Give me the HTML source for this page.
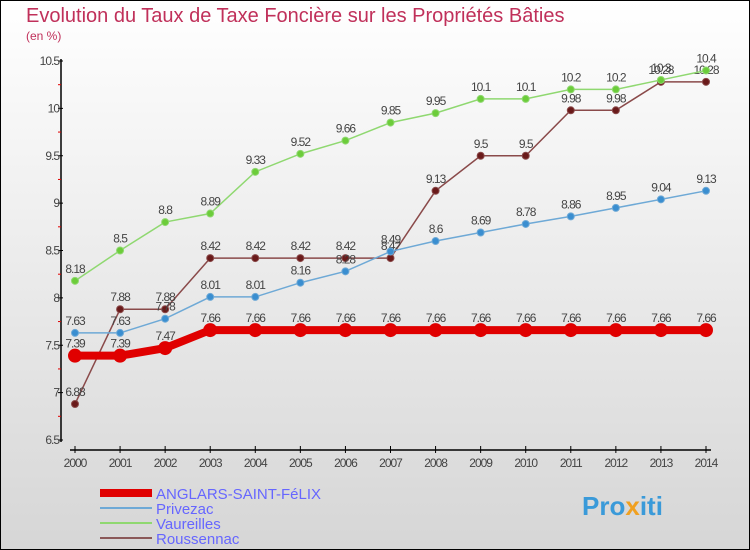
<!DOCTYPE html>
<html><head><meta charset="utf-8"><style>
body{margin:0}
svg{display:block;font-family:"Liberation Sans",sans-serif}
</style></head><body>
<svg width="750" height="550" viewBox="0 0 750 550">
<defs><linearGradient id="bg" x1="0" y1="0" x2="0" y2="1"><stop offset="0" stop-color="#ffffff"/><stop offset="1" stop-color="#d6d6d6"/></linearGradient></defs>
<rect x="0.5" y="0.5" width="749" height="549" fill="url(#bg)" stroke="#000"/>
<text x="26" y="22" font-size="20" fill="#c0305a">Evolution du Taux de Taxe Foncière sur les Propriétés Bâties</text>
<text x="26" y="40" font-size="12" fill="#c0305a">(en %)</text>
<g id="axes"></g>
<g id="series"></g>
<g id="legend">
<rect x="100" y="489" width="52" height="8" fill="#e00000"/>
<text x="156" y="499" font-size="15" fill="#6666ff">ANGLARS-SAINT-FéLIX</text>
<rect x="100" y="507" width="52" height="2" fill="#6ea9d6"/>
<text x="156" y="514" font-size="15" fill="#6666ff">Privezac</text>
<rect x="100" y="522" width="52" height="2" fill="#8fd870"/>
<text x="156" y="529" font-size="15" fill="#6666ff">Vaureilles</text>
<rect x="100" y="537" width="52" height="2" fill="#8a5858"/>
<text x="156" y="544" font-size="15" fill="#6666ff">Roussennac</text>
</g>
<text x="582" y="515" font-size="26" font-weight="bold" fill="#3a9ad9">Pro<tspan fill="#f0a020">x</tspan>iti</text>
</svg>
<script>
const years=[2000,2001,2002,2003,2004,2005,2006,2007,2008,2009,2010,2011,2012,2013,2014];
const anglars=[7.39,7.39,7.47,7.66,7.66,7.66,7.66,7.66,7.66,7.66,7.66,7.66,7.66,7.66,7.66];
const privezac=[7.63,7.63,7.78,8.01,8.01,8.16,8.28,8.49,8.6,8.69,8.78,8.86,8.95,9.04,9.13];
const vaureilles=[8.18,8.5,8.8,8.89,9.33,9.52,9.66,9.85,9.95,10.1,10.1,10.2,10.2,10.3,10.4];
const roussennac=[6.88,7.88,7.88,8.42,8.42,8.42,8.42,8.42,9.13,9.5,9.5,9.98,9.98,10.28,10.28];
const yTicks=[6.5,7,7.5,8,8.5,9,9.5,10,10.5];
const NS="http://www.w3.org/2000/svg";
const X=i=>75+i*(706-75)/(years.length-1);
const Y=v=>61+(10.5-v)*(440-61)/4;
function mk(tag,attrs,parent){const e=document.createElementNS(NS,tag);for(const k in attrs)e.setAttribute(k,attrs[k]);parent.appendChild(e);return e;}
const ax=document.getElementById('axes');
let l=mk('line',{x1:61,y1:59,x2:61,y2:442,stroke:'#000','stroke-width':1.5},ax);


yTicks.forEach(v=>{
  let t=mk('line',{x1:58,y1:Y(v),x2:63,y2:Y(v),stroke:'#000'},ax);
  
  
  let tx=mk('text',{x:59,y:Y(v)+4,'text-anchor':'end','font-size':12,fill:'#444','letter-spacing':-1},ax);
  tx.textContent=String(v);
  
  
  if(v<10.5){let m=mk('line',{x1:58,y1:Y(v+0.25),x2:61,y2:Y(v+0.25),stroke:'#e00000'},ax);
  
  }
});
l=mk('line',{x1:70,y1:450,x2:711,y2:450,stroke:'#000','stroke-width':1.5},ax);


years.forEach((y,i)=>{
  let t=mk('line',{x1:X(i),y1:446,x2:X(i),y2:453,stroke:'#000'},ax);
  
  
  let tx=mk('text',{x:X(i),y:467,'text-anchor':'middle','font-size':12,fill:'#444','letter-spacing':-1},ax);
  tx.textContent=String(y);
  
  
});
const sg=document.getElementById('series');
function draw(vals,name,color,dot,w,r){
  const g=mk('g',{},sg);
  
  
  const p=mk('polyline',{points:vals.map((v,i)=>X(i)+','+Y(v)).join(' '),fill:'none',stroke:color,'stroke-width':w},g);
  
  
  vals.forEach((v,i)=>{
    const c=mk('circle',{cx:X(i),cy:Y(v),r:r,fill:dot,stroke:color},g);
    
    
    const t=mk('text',{x:X(i),y:Y(v)-8,'text-anchor':'middle','font-size':12,fill:'#444','letter-spacing':-1},g);
    t.textContent=String(v);
    
    
  });
}
draw(roussennac,'roussennac','#8a4a4a','#6a1a1a',1.5,3.5);
draw(vaureilles,'vaureilles','#8fd870','#6ccc3a',1.5,3.5);
draw(privezac,'privezac','#6ea9d6','#3a8ed0',1.5,3.5);
draw(anglars,'anglars','#e00000','#e00000',8,6.5);
</script>
</body></html>
